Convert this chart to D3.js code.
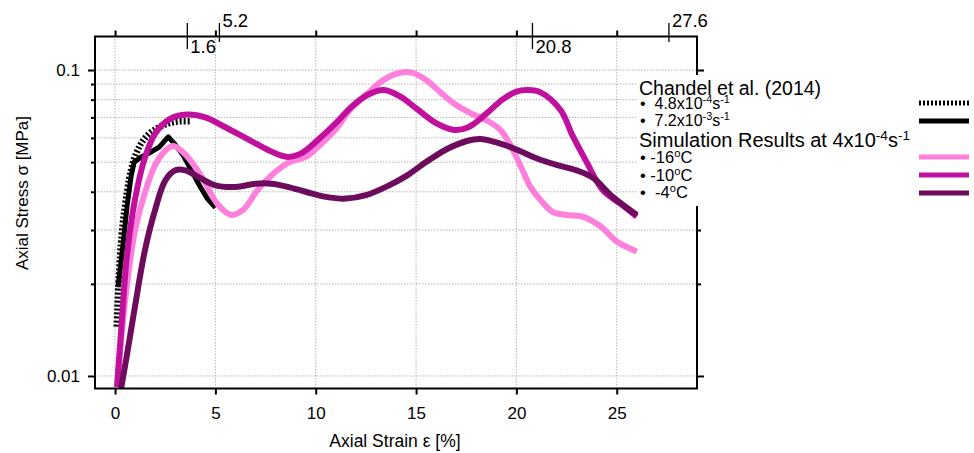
<!DOCTYPE html>
<html>
<head>
<meta charset="utf-8">
<script src="https://cdn.jsdelivr.net/npm/d3@7"></script>
<style>
  body { margin: 0; background: #fff; }
  svg { display: block; font-family: "Liberation Sans", Arial, Helvetica, sans-serif; }
</style>
</head>
<body>
<svg id="chart" width="974" height="453"></svg>
<script>
// Axis ticks and labels
const strainTicks = [0, 5, 10, 15, 20, 25];
const stressMajor = [0.01, 0.1];
const stressGrid = [0.01, 0.02, 0.03, 0.04, 0.05, 0.06, 0.07, 0.08, 0.09, 0.1];
const topMarkStrain = [3.6, 5.2, 20.8, 27.6];
const topMarkLabels = ["1.6", "5.2", "20.8", "27.6"];

// Chandel et al. (2014) measurements: [strain %, stress MPa]
const chandelSlow = [[0.08,0.0145],[0.17,0.020],[0.33,0.029],[0.5,0.036],[0.7,0.044],[0.9,0.050],[1.2,0.056],[1.6,0.061],[2.1,0.0645],[2.7,0.067],[3.3,0.068],[3.8,0.068]];
const chandelFast = [[0.15,0.0195],[0.4,0.027],[0.6,0.036],[0.8,0.045],[0.95,0.050],[1.3,0.052],[1.8,0.054],[2.2,0.056],[2.65,0.0605],[3.0,0.057],[3.4,0.0525],[3.8,0.047],[4.2,0.042],[4.6,0.038],[5.0,0.0355]];

// Simulation results at 4x10^-4 s^-1
const simMinus16 = [[0.1,0.0092],[0.3,0.013],[0.6,0.020],[1.0,0.030],[1.5,0.040],[2.0,0.049],[2.5,0.0545],[2.9,0.0565],[3.5,0.053],[4.2,0.046],[4.6,0.0415],[5.1,0.0365],[5.8,0.0336],[6.4,0.035],[7.1,0.0405],[8.0,0.0465],[8.7,0.050],[9.5,0.052],[10.1,0.056],[11.0,0.064],[11.7,0.074],[12.6,0.084],[13.4,0.093],[14.2,0.098],[14.8,0.098],[15.5,0.0927],[16.2,0.0847],[17.0,0.0768],[17.8,0.0718],[18.6,0.068],[19.2,0.0637],[19.7,0.0569],[20.3,0.0471],[20.7,0.0415],[21.2,0.0376],[21.8,0.0344],[22.5,0.0336],[23.3,0.0332],[24.2,0.0308],[25.0,0.0275],[26.0,0.0255]];
const simMinus10 = [[0.1,0.0092],[0.3,0.014],[0.6,0.025],[1.0,0.038],[1.5,0.052],[2.0,0.062],[2.7,0.069],[3.6,0.0715],[4.5,0.070],[5.5,0.065],[6.7,0.059],[7.7,0.0545],[8.6,0.052],[9.3,0.0535],[10.1,0.059],[11.0,0.067],[11.8,0.076],[12.6,0.083],[13.4,0.086],[14.2,0.082],[15.0,0.075],[16.0,0.067],[16.9,0.0637],[17.6,0.065],[18.5,0.072],[19.3,0.080],[20.0,0.085],[20.6,0.086],[21.2,0.0845],[22.2,0.074],[22.8,0.061],[23.5,0.050],[24.3,0.0405],[25.2,0.0365],[26.0,0.0332]];
const simMinus4 = [[0.3,0.0091],[0.6,0.0118],[1.0,0.017],[1.5,0.026],[2.0,0.035],[2.5,0.0435],[3.0,0.047],[3.5,0.047],[4.2,0.0445],[5.0,0.042],[6.0,0.0415],[7.0,0.0425],[7.8,0.0425],[8.6,0.0415],[9.5,0.040],[10.5,0.0385],[11.5,0.038],[12.5,0.039],[13.5,0.0415],[14.5,0.045],[15.5,0.050],[16.5,0.055],[17.5,0.0585],[18.2,0.0595],[19.0,0.058],[20.0,0.055],[21.0,0.0515],[22.0,0.049],[23.0,0.047],[23.8,0.0445],[24.8,0.0385],[26.0,0.0336]];

const svg = d3.select("#chart");
const x = d3.scaleLinear().domain([-1, 29]).range([95, 697]);
const y = d3.scaleLog().domain([0.0091, 0.1287]).range([388.5, 36.5]);
const [x0, x1] = x.range();
const [y0, y1] = y.range();

// Dotted grid
const grid = svg.append("g").attr("stroke", "#b4b4b4").attr("stroke-width", 1).attr("stroke-dasharray", "1.5,1.5");
grid.selectAll("line.v").data(strainTicks).join("line").attr("class", "v")
  .attr("x1", d => x(d)).attr("x2", d => x(d)).attr("y1", y0).attr("y2", y1);
grid.selectAll("line.h").data(stressGrid).join("line").attr("class", "h")
  .attr("x1", x0).attr("x2", x1).attr("y1", d => y(d)).attr("y2", d => y(d));

// Curves
const makeLine = (curve) => d3.line().x(d => x(d[0])).y(d => y(d[1])).curve(curve);
const series = [
  { data: chandelSlow, color: "#000", width: 6.5, dash: "2,2", curve: d3.curveMonotoneX },
  { data: chandelFast, color: "#000", width: 5, dash: null, curve: d3.curveLinear },
  { data: simMinus16, color: "#ff80dc", width: 6, dash: null, curve: d3.curveCatmullRom },
  { data: simMinus10, color: "#c1109e", width: 6, dash: null, curve: d3.curveCatmullRom },
  { data: simMinus4, color: "#6d0b5d", width: 6, dash: null, curve: d3.curveCatmullRom }
];
svg.append("g").selectAll("path").data(series).join("path")
  .attr("d", s => makeLine(s.curve)(s.data))
  .attr("fill", "none")
  .attr("stroke", s => s.color)
  .attr("stroke-width", s => s.width)
  .attr("stroke-dasharray", s => s.dash)
  .attr("stroke-linejoin", "round");

// Frame
svg.append("rect").attr("x", x0).attr("y", y1).attr("width", x1 - x0).attr("height", y0 - y1)
  .attr("fill", "none").attr("stroke", "#000").attr("stroke-width", 2);

// Axes
const axBottom = svg.append("g").attr("transform", `translate(0,${y0})`)
  .call(d3.axisBottom(x).tickValues(strainTicks).tickSize(6).tickPadding(12));
const axTop = svg.append("g").attr("transform", `translate(0,${y1})`)
  .call(d3.axisTop(x).tickValues(strainTicks).tickSize(6).tickFormat(""));
const axLeft = svg.append("g").attr("transform", `translate(${x0},0)`)
  .call(d3.axisLeft(y).tickValues(stressGrid).tickSize(4).tickPadding(11)
    .tickFormat(d => stressMajor.includes(d) ? d3.format("")(d) : ""));
const axRight = svg.append("g").attr("transform", `translate(${x1},0)`)
  .call(d3.axisRight(y).tickValues(stressGrid).tickSize(4).tickFormat(""));
[axLeft, axRight].forEach(g => g.selectAll(".tick line")
  .attr("x2", d => (stressMajor.includes(d) ? 7 : 4) * (g === axLeft ? -1 : 1)));
[axBottom, axTop, axLeft, axRight].forEach(g => {
  g.select(".domain").remove();
  g.selectAll(".tick line").attr("stroke", "#000").attr("stroke-width", 2);
  g.selectAll("text").attr("font-size", 17).attr("fill", "#000")
    .attr("font-family", "'Liberation Sans', Arial, sans-serif");
});

// Annotated strains along the top edge
const marks = svg.append("g");
topMarkStrain.forEach((v, i) => {
  const below = i % 2 === 0;
  marks.append("line").attr("x1", x(v)).attr("x2", x(v)).attr("y1", 23).attr("y2", below ? 49 : 42)
    .attr("stroke", "#000").attr("stroke-width", 1.3);
  marks.append("text").attr("x", x(v) + 3).attr("y", below ? 53 : 27)
    .attr("font-size", 18.5).text(topMarkLabels[i]);
});

// Axis titles
svg.append("text").attr("x", 395).attr("y", 447).attr("text-anchor", "middle")
  .attr("font-size", 17.5).text("Axial Strain ε [%]");
svg.append("text").attr("transform", "translate(28,193) rotate(-90)").attr("text-anchor", "middle")
  .attr("font-size", 17).text("Axial Stress σ  [MPa]");

// Legend
const lg = svg.append("g");
lg.append("rect").attr("x", 638).attr("y", 75).attr("width", 336).attr("height", 131).attr("fill", "#fff");

function sup(t, parts, size, rise) {
  parts.forEach(p => {
    if (p.sup) t.append("tspan").attr("dy", -rise).attr("font-size", size * 0.68).text(p.sup);
    else t.append("tspan").attr("dy", p.up ? rise : 0).text(p.txt);
  });
}
lg.append("text").attr("x", 639).attr("y", 95).attr("font-size", 19.5).text("Chandel et al. (2014)");
const e1 = lg.append("text").attr("x", 640).attr("y", 109).attr("font-size", 16).attr("xml:space", "preserve");
sup(e1, [{ txt: "•  4.8x10" }, { sup: "-4" }, { txt: "s", up: true }, { sup: "-1" }], 16, 6);
const e2 = lg.append("text").attr("x", 640).attr("y", 126).attr("font-size", 16).attr("xml:space", "preserve");
sup(e2, [{ txt: "•  7.2x10" }, { sup: "-3" }, { txt: "s", up: true }, { sup: "-1" }], 16, 6);
const title2 = lg.append("text").attr("x", 639).attr("y", 147).attr("font-size", 20);
sup(title2, [{ txt: "Simulation Results at 4x10" }, { sup: "-4" }, { txt: "s", up: true }, { sup: "-1" }], 20, 7);
const temps = [["• -16", 163], ["• -10", 181], ["•  -4", 198]];
temps.forEach(([t, yy]) => {
  const el = lg.append("text").attr("x", 640).attr("y", yy).attr("font-size", 16.5).attr("xml:space", "preserve");
  sup(el, [{ txt: t }, { sup: "o" }, { txt: "C", up: true }], 16.5, 6);
});

// Legend line samples, one per series, aligned with the entries
const sampleY = [103, 121, 157, 175, 193];
lg.selectAll("line.s").data(series).join("line").attr("class", "s")
  .attr("x1", 919).attr("x2", 969)
  .attr("y1", (d, i) => sampleY[i]).attr("y2", (d, i) => sampleY[i])
  .attr("stroke", d => d.color).attr("stroke-width", 5)
  .attr("stroke-dasharray", d => d.dash);
</script>
</body>
</html>
